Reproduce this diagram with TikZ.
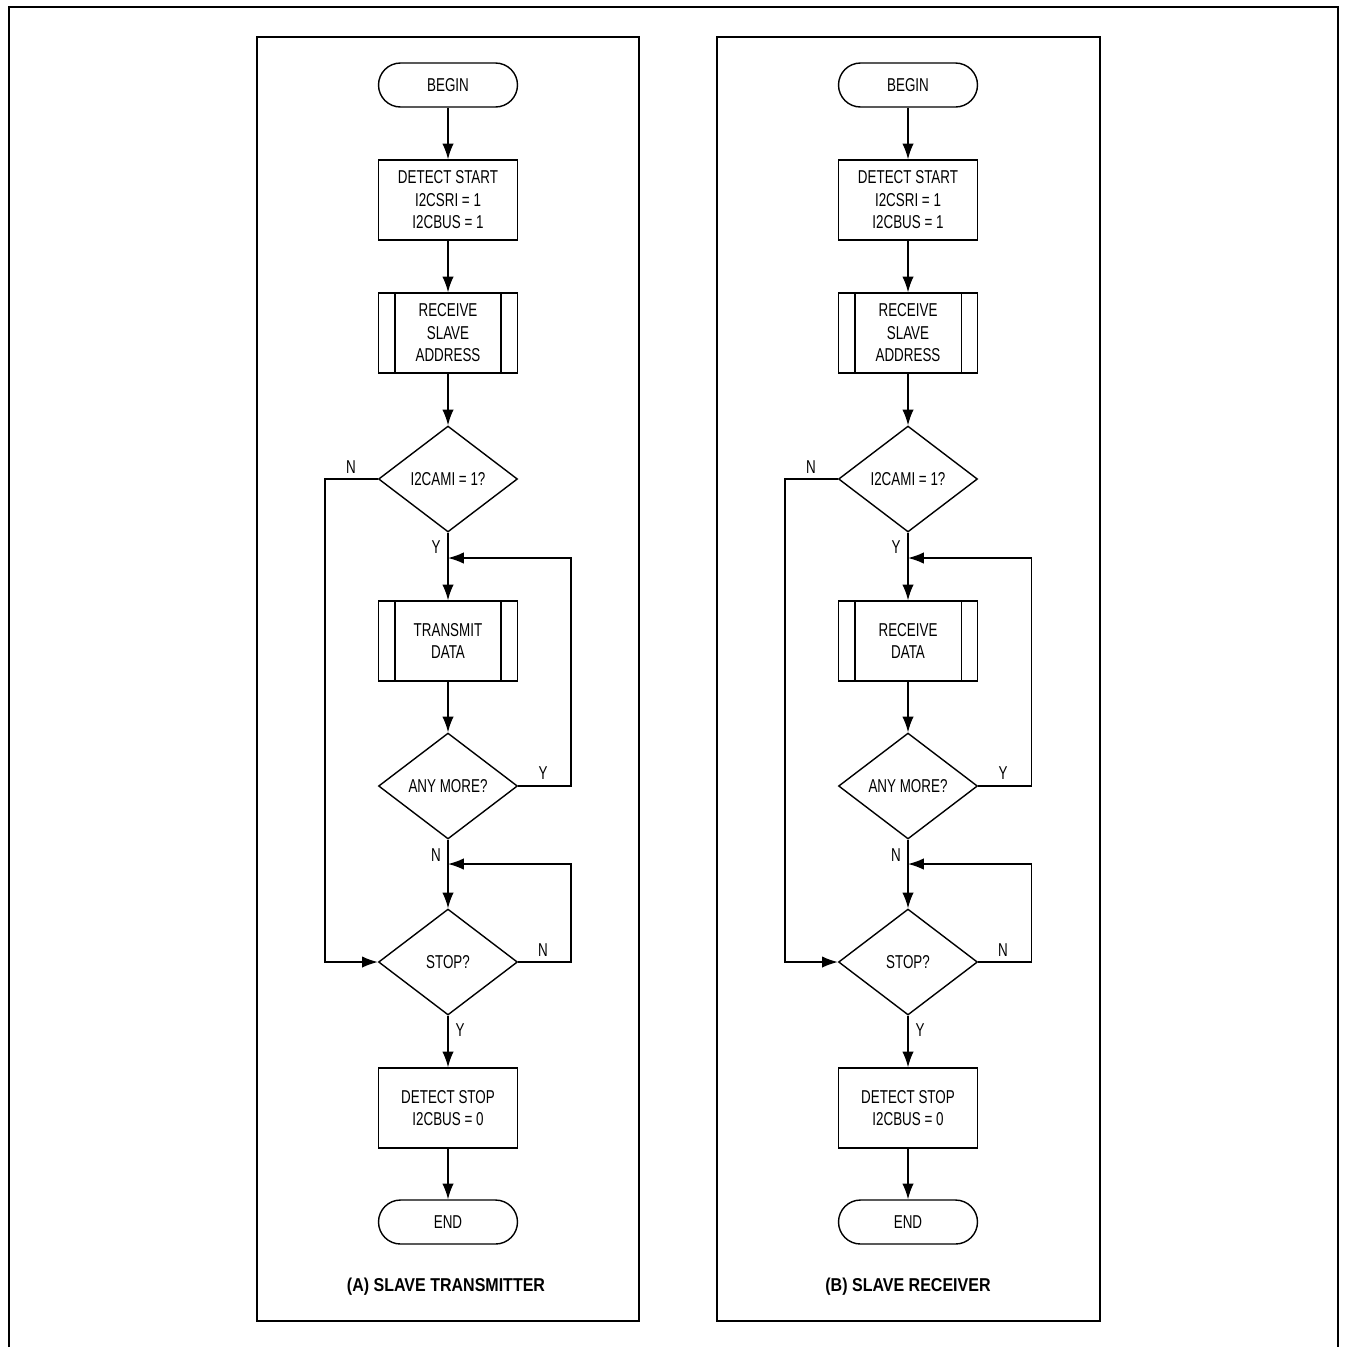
\documentclass[tikz,border=0pt]{standalone}
\usepackage{fontspec}
\setmainfont{Liberation Sans}[FakeStretch=0.72]
\newfontfamily\capfont{Liberation Sans}[FakeStretch=0.86]
\usepackage{tikz}
\usetikzlibrary{arrows.meta,shapes.geometric}

\begin{document}
\begin{tikzpicture}[x=0.02cm, y=-0.02cm, >={Latex[length=9pt,width=6.5pt]},
  every node/.style={font=\fontsize{10.6}{12.8}\selectfont},
  terminal/.style={draw, line width=0.8pt, rounded corners=0.44cm, minimum width=2.78cm, minimum height=0.88cm, inner sep=0pt},
  process/.style={draw, line width=0.8pt, minimum width=2.78cm, minimum height=1.6cm, align=center, inner sep=0pt},
  decision/.style={draw, diamond, line width=0.8pt, minimum width=2.78cm, minimum height=2.12cm, inner sep=0pt},
  flow/.style={line width=0.8pt},
  yn/.style={inner sep=1pt},
  caption/.style={font=\capfont\fontsize{10.6}{12.8}\selectfont\bfseries}]
\useasboundingbox (0,0) rectangle (1348,1347);

% Marco exterior (abierto por abajo)
\draw[line width=1.3pt] (9,1347) -- (9,7) -- (1338,7) -- (1338,1347);

% Paneles
\draw[line width=0.8pt] (257,37) rectangle (639,1321);
\draw[line width=0.8pt] (717,37) rectangle (1100,1321);

% ---------------------------------------------------------
% (A) Esclavo transmisor
% ---------------------------------------------------------
\node[terminal] (a-begin) at (448,85) {BEGIN};
\node[process] (a-start) at (448,200) {DETECT START\\I2CSRI = 1\\I2CBUS = 1};
\node[process] (a-addr) at (448,333) {RECEIVE\\SLAVE\\ADDRESS};
\node[decision] (a-cami) at (448,479) {I2CAMI = 1?};
\node[process] (a-data) at (448,641) {TRANSMIT\\DATA};
\node[decision] (a-more) at (448,786) {ANY MORE?};
\node[decision] (a-stop) at (448,962) {STOP?};
\node[process] (a-dstop) at (448,1108) {DETECT STOP\\I2CBUS = 0};
\node[terminal] (a-end) at (448,1222) {END};
\node[caption] (a-cap) at (446,1287) {(A) SLAVE TRANSMITTER};

% Barras laterales de los subprocesos
\draw[line width=0.8pt] ([xshift=0.34cm]a-addr.north west) -- ([xshift=0.34cm]a-addr.south west);
\draw[line width=0.8pt] ([xshift=-0.34cm]a-addr.north east) -- ([xshift=-0.34cm]a-addr.south east);
\draw[line width=0.8pt] ([xshift=0.34cm]a-data.north west) -- ([xshift=0.34cm]a-data.south west);
\draw[line width=0.8pt] ([xshift=-0.34cm]a-data.north east) -- ([xshift=-0.34cm]a-data.south east);

% Flujo principal
\coordinate (a-j1) at (448,558);
\coordinate (a-j2) at (448,864);
\draw[flow,->] (a-begin) -- (a-start);
\draw[flow,->] (a-start) -- (a-addr);
\draw[flow,->] (a-addr) -- (a-cami);
\draw[flow,->] (a-cami) -- (a-data);
\draw[flow,->] (a-data) -- (a-more);
\draw[flow,->] (a-more) -- (a-stop);
\draw[flow,->] (a-stop) -- (a-dstop);
\draw[flow,->] (a-dstop) -- (a-end);

% Lazos
\draw[flow,->] (a-more.east) -- ++(53,0) |- (a-j1);
\draw[flow,->] (a-stop.east) -- ++(53,0) |- (a-j2);
\draw[flow,->] (a-cami.west) -- ++(-53,0) |- (a-stop.west);

% Etiquetas Y/N
\node[yn] (a-n1) at (351,467) {N};
\node[yn] (a-y1) at (436,547) {Y};
\node[yn] (a-y2) at (543,773) {Y};
\node[yn] (a-n2) at (436,855) {N};
\node[yn] (a-n3) at (543,950) {N};
\node[yn] (a-y3) at (460,1030) {Y};

% ---------------------------------------------------------
% (B) Esclavo receptor
% ---------------------------------------------------------
\node[terminal] (b-begin) at (908,85) {BEGIN};
\node[process] (b-start) at (908,200) {DETECT START\\I2CSRI = 1\\I2CBUS = 1};
\node[process] (b-addr) at (908,333) {RECEIVE\\SLAVE\\ADDRESS};
\node[decision] (b-cami) at (908,479) {I2CAMI = 1?};
\node[process] (b-data) at (908,641) {RECEIVE\\DATA};
\node[decision] (b-more) at (908,786) {ANY MORE?};
\node[decision] (b-stop) at (908,962) {STOP?};
\node[process] (b-dstop) at (908,1108) {DETECT STOP\\I2CBUS = 0};
\node[terminal] (b-end) at (908,1222) {END};
\node[caption] (b-cap) at (908,1287) {(B) SLAVE RECEIVER};

% Barras laterales de los subprocesos
\draw[line width=0.8pt] ([xshift=0.34cm]b-addr.north west) -- ([xshift=0.34cm]b-addr.south west);
\draw[line width=0.8pt] ([xshift=-0.34cm]b-addr.north east) -- ([xshift=-0.34cm]b-addr.south east);
\draw[line width=0.8pt] ([xshift=0.34cm]b-data.north west) -- ([xshift=0.34cm]b-data.south west);
\draw[line width=0.8pt] ([xshift=-0.34cm]b-data.north east) -- ([xshift=-0.34cm]b-data.south east);

% Flujo principal
\coordinate (b-j1) at (908,558);
\coordinate (b-j2) at (908,864);
\draw[flow,->] (b-begin) -- (b-start);
\draw[flow,->] (b-start) -- (b-addr);
\draw[flow,->] (b-addr) -- (b-cami);
\draw[flow,->] (b-cami) -- (b-data);
\draw[flow,->] (b-data) -- (b-more);
\draw[flow,->] (b-more) -- (b-stop);
\draw[flow,->] (b-stop) -- (b-dstop);
\draw[flow,->] (b-dstop) -- (b-end);

% Lazos
\draw[flow,->] (b-more.east) -- ++(53,0) |- (b-j1);
\draw[flow,->] (b-stop.east) -- ++(53,0) |- (b-j2);
\draw[flow,->] (b-cami.west) -- ++(-53,0) |- (b-stop.west);

% Etiquetas Y/N
\node[yn] (b-n1) at (811,467) {N};
\node[yn] (b-y1) at (896,547) {Y};
\node[yn] (b-y2) at (1003,773) {Y};
\node[yn] (b-n2) at (896,855) {N};
\node[yn] (b-n3) at (1003,950) {N};
\node[yn] (b-y3) at (920,1030) {Y};

\end{tikzpicture}
\end{document}
